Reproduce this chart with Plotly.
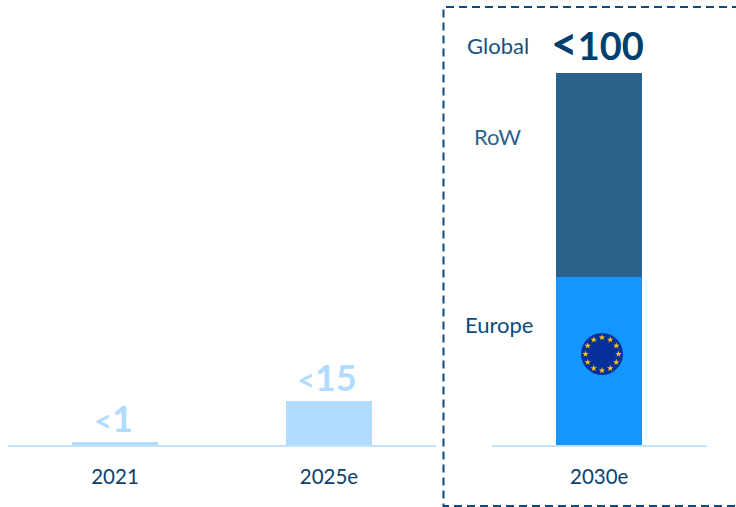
import math
import plotly.graph_objects as go

W, H = 736, 507
left_years = ["2021", "2025e"]
left_values = [0.8, 11.8]
left_labels = ["1", "15"]
right_year = ["2030e"]
europe_values = [45.2]
row_values = [54.8]
total_label = "100"
FONT = "Lato"

px = lambda v: v / W
py = lambda v: 1 - v / H

fig = go.Figure()
fig.add_bar(x=left_years, y=left_values, marker_color="#b1dcff", marker_line_width=0,
            xaxis="x", yaxis="y", showlegend=False)
fig.add_bar(x=right_year, y=europe_values, marker_color="#1496ff", marker_line_width=0,
            xaxis="x2", yaxis="y2", showlegend=False, name="Europe")
fig.add_bar(x=right_year, y=row_values, marker_color="#2b628b", marker_line_width=0,
            xaxis="x2", yaxis="y2", showlegend=False, name="RoW")

# EU flag decoration on a hidden pixel overlay
cx, cy, r = 602, 354, 16.5
fig.add_scatter(x=[cx], y=[cy], mode="markers", xaxis="x3", yaxis="y3", showlegend=False,
                marker=dict(size=42, color="#05309a", line_width=0))
fig.add_scatter(x=[cx + r * math.sin(i * math.pi / 6) for i in range(12)],
                y=[cy - r * math.cos(i * math.pi / 6) for i in range(12)],
                mode="markers", xaxis="x3", yaxis="y3", showlegend=False,
                marker=dict(size=5, symbol="star", color="#f5c518", line_width=0))

axis_line = dict(showline=True, linecolor="#c4e3fb", linewidth=2, ticks="", showgrid=False,
                 zeroline=False, tickfont=dict(family=FONT, size=20.5, color="#0b3f6e"),
                 fixedrange=True, ticklabelstandoff=12)
yaxis = dict(range=[0, 100], visible=False, fixedrange=True, domain=[py(445), py(73)])

fig.update_layout(
    width=W, height=H, margin=dict(l=0, r=0, t=0, b=0), autosize=False,
    paper_bgcolor="white", plot_bgcolor="rgba(0,0,0,0)",
    barmode="stack", bargap=0.6,
    font=dict(family=FONT),
    xaxis=dict(domain=[px(8), px(436)], anchor="y", type="category",
               range=[-0.5, 1.5], **axis_line),
    yaxis=dict(anchor="x", **yaxis),
    xaxis2=dict(domain=[px(491.5), px(707)], anchor="y2", type="category",
                range=[-0.5, 0.5], **axis_line),
    yaxis2=dict(anchor="x2", **yaxis),
    xaxis3=dict(domain=[0, 1], range=[0, W], visible=False, anchor="y3", fixedrange=True),
    yaxis3=dict(domain=[0, 1], range=[H, 0], visible=False, anchor="x3", fixedrange=True),
)

DARK = "#004071"
LIGHT = "#b1dcff"
anns = []
for i, (val, lab) in enumerate(zip(left_values, left_labels)):
    anns.append(dict(x=i, y=val, xref="x", yref="y", xanchor="center", yanchor="bottom",
                     showarrow=False, yshift=0, xshift=-2,
                     text=f'<b><span style="font-size:31px">&lt;</span>{lab}</b>',
                     font=dict(size=36, color=LIGHT, family=FONT)))
anns.append(dict(x=0, y=100, xref="x2", yref="y2", xanchor="center", yanchor="bottom",
                 showarrow=False, yshift=1, xshift=-2,
                 text=f'<b><span style="font-size:46px">&lt;</span>{total_label}</b>',
                 font=dict(size=38, color=DARK, family=FONT)))
for text, x, y, color in [("Global", 498, 45, "#16527f"), ("RoW", 498, 136, "#2b628b"),
                          ("Europe", 498.5, 324, "#0f4a7a")]:
    anns.append(dict(x=px(x), y=py(y), xref="paper", yref="paper", showarrow=False,
                     xanchor="center", yanchor="middle",
                     text=text, font=dict(size=22, color=color, family=FONT)))
fig.update_layout(annotations=anns)

fig.add_shape(type="path", xref="paper", yref="paper",
              path=f"M {px(740)} {py(7)} L {px(443.5)} {py(7)} L {px(443.5)} {py(506)} L {px(740)} {py(506)}",
              line=dict(color="#0f4a7a", width=2, dash="8px,5px"))

fig.write_html("out.html", config=dict(displayModeBar=False),
               post_script="document.body.style.margin='0';")
